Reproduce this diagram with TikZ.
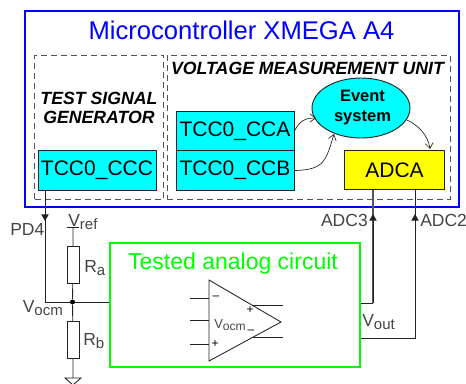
\documentclass[tikz,border=0pt]{standalone}
\usepackage{fontspec}
\setmainfont{Liberation Sans}
\usepackage{tikz}
\usetikzlibrary{arrows.meta,positioning,shapes.geometric}
\definecolor{mcublue}{HTML}{0000FF}
\definecolor{regcyan}{HTML}{00FFFF}
\definecolor{adcyellow}{HTML}{FFFF00}
\definecolor{testgreen}{HTML}{00FF00}
\definecolor{wiregray}{HTML}{222222}
\definecolor{dashgray}{HTML}{555555}
\definecolor{labelgray}{HTML}{444444}
\newlength{\pxu}
\setlength{\pxu}{0.75pt}
\newcommand{\pinsub}[1]{\raisebox{-3\pxu}{\fontsize{15\pxu}{15\pxu}\selectfont #1}}
\newcommand{\oasub}[1]{\raisebox{-2\pxu}{\fontsize{12\pxu}{12\pxu}\selectfont #1}}
\tikzset{
    regbox/.style={draw=wiregray, fill=regcyan, line width=0.7pt, minimum width=118\pxu, minimum height=39.5\pxu, inner sep=0pt, font=\fontsize{21\pxu}{23\pxu}\selectfont},
    unitbox/.style={draw=dashgray, line width=0.7pt, dash pattern=on 6\pxu off 4\pxu, minimum height=144\pxu, inner sep=0pt},
    unitlabel/.style={font=\fontsize{17.7\pxu}{19\pxu}\selectfont\bfseries\itshape, align=center, inner sep=0pt},
    wire/.style={draw=wiregray, line width=0.65pt},
    heavywire/.style={draw=dashgray, line width=1.1pt},
    rbox/.style={draw=wiregray, fill=white, line width=0.7pt, minimum width=12\pxu, minimum height=37\pxu, inner sep=0pt},
    pinlabel/.style={font=\fontsize{17.5\pxu}{19\pxu}\selectfont, color=labelgray, inner sep=0pt},
    signmark/.style={font=\fontsize{12\pxu}{12\pxu}\selectfont, inner sep=0pt},
    flow/.style={draw=wiregray, line width=0.5pt, -{Straight Barb[length=4pt,width=6pt]}},
    pintip/.style={-{Triangle[length=5pt,width=5.5pt]}}
}
\begin{document}
\begin{tikzpicture}[x=\pxu, y=-\pxu]
    \useasboundingbox (0,0) rectangle (466,383);

    % Microcontroller
    \node[draw=mcublue, line width=1.5pt, minimum width=434\pxu, minimum height=196\pxu, inner sep=0pt] (mcu) at (241.5,108.5) {};
    \node[anchor=base, font=\fontsize{25.6\pxu}{28\pxu}\selectfont, color=mcublue, inner sep=0pt] (mcutitle) at (241.5,39.5) {Microcontroller XMEGA A4};

    % Dashed units
    \node[unitbox, minimum width=129\pxu] (gen) at (99,127) {};
    \node[unitbox, minimum width=283\pxu] (vmu) at (308.5,127) {};
    \node[unitlabel] (genlabel) at (99,108) {TEST SIGNAL\\GENERATOR};
    \node[unitlabel] (vmulabel) at (307.5,68) {VOLTAGE MEASUREMENT UNIT};

    % Registers
    \node[regbox] (ccc) at (97,170.5) {TCC0\_CCC};
    \node[regbox] (cca) at (235,131) {TCC0\_CCA};
    \node[regbox] (ccb) at (235,170.5) {TCC0\_CCB};
    \node[draw=wiregray, fill=adcyellow, line width=0.7pt, minimum width=100\pxu, minimum height=39.5\pxu, inner sep=0pt, font=\fontsize{21\pxu}{23\pxu}\selectfont] (adca) at (394.5,170) {ADCA};
    \node[ellipse, draw=wiregray, fill=regcyan, line width=0.7pt, minimum width=98\pxu, minimum height=60\pxu, inner sep=0pt] (event) at (361,108) {};
    \node[align=center, inner sep=0pt, font=\fontsize{16.5\pxu}{20\pxu}\selectfont\bfseries] (eventlabel) at (362.5,108) {Event\\system};

    % Flows to and from the event system
    \coordinate (evta) at (316,118);
    \coordinate (evtb) at (334,134);
    \coordinate (evtc) at (407,120);
    \coordinate (adctop) at (430,149);
    \draw[flow] (cca.east) .. controls (300,120) and (306,118) .. (evta);
    \draw[flow] (ccb.east) .. controls (325,170) and (326,160) .. (evtb);
    \draw[flow] (evtc) .. controls (418,125) and (428,135) .. (adctop);

    % Tested circuit
    \node[draw=testgreen, line width=1.5pt, minimum width=250\pxu, minimum height=124\pxu, inner sep=0pt] (dut) at (235,305) {};
    \node[anchor=base, font=\fontsize{23\pxu}{25\pxu}\selectfont, color=testgreen, inner sep=0pt] (dutlabel) at (233,269) {Tested analog circuit};

    % Op amp
    \coordinate (oa1) at (209,280);
    \coordinate (oa2) at (281,322);
    \coordinate (oa3) at (209,361);
    \draw[wire] (oa1) -- (oa2) -- (oa3) -- cycle;
    \foreach \y in {298,320,344} {
        \draw[wire] (190,\y) -- (209,\y);
    }
    \foreach \y in {305,337} {
        \draw[wire] (252,\y) -- (283,\y);
    }
    \node[signmark] (oam) at (216,298) {–};
    \node[signmark] (oap) at (215,344) {+};
    \node[signmark] (oap2) at (250,310) {+};
    \node[signmark] (oam2) at (251,332) {–};
    \node[anchor=base west, font=\fontsize{13\pxu}{15\pxu}\selectfont, color=labelgray, inner sep=0pt] (oav) at (214,328) {V\oasub{ocm}};

    % Divider
    \node[rbox] (ra) at (73,265) {};
    \node[rbox] (rb) at (73,340) {};
    \node[circle, fill=black, minimum size=5\pxu, inner sep=0pt] (jct) at (72.5,302) {};
    \coordinate (vreft) at (73,227);
    \coordinate (gnd) at (73,378);
    \draw[wire] (vreft) -- (ra) -- (jct) -- (rb) -- (gnd);
    \draw[wire] (67,227) -- (79,227);
    \draw[wire] (65,378) -- (81,378) -- (73,385) -- cycle;
    \coordinate (pdstart) at (45,190);
    \coordinate (pdtip) at (45,221);
    \coordinate (pdbend) at (45,302);
    \draw[wire] (pdstart) -- (pdbend) -- (jct) -- (dut.west |- jct);
    \draw[wire, pintip] (pdstart) -- (pdtip);

    % ADC inputs
    \coordinate (adc3bend) at (373,303);
    \coordinate (adc2bend) at (415,338);
    \coordinate (adc3top) at (373,190);
    \coordinate (adc2top) at (415,190);
    \coordinate (adc3tip) at (373,214);
    \coordinate (adc2tip) at (415,214);
    \draw[heavywire] (adc3bend) -- (adc3top);
    \draw[wire] (dut.east |- adc3bend) -- (adc3bend);
    \draw[wire] (dut.east |- adc2bend) -- (adc2bend) -- (adc2top);
    \draw[wire, pintip] (adc3bend) -- (adc3tip);
    \draw[wire, pintip] (adc2bend) -- (adc2tip);

    % Pin labels
    \node[pinlabel, anchor=base west] (pd4) at (10,235) {PD4};
    \node[pinlabel, anchor=base west] (vref) at (68,226) {V\pinsub{ref}};
    \node[pinlabel, anchor=base west] (vocm) at (22.5,312) {V\pinsub{ocm}};
    \node[pinlabel, anchor=base west] (rat) at (84,272) {R\pinsub{a}};
    \node[pinlabel, anchor=base west] (rbt) at (83,345) {R\pinsub{b}};
    \node[pinlabel, anchor=base east] (adc3) at (368,226) {ADC3};
    \node[pinlabel, anchor=base west] (adc2) at (420,226) {ADC2};
    \node[pinlabel, anchor=base west] (vout) at (362,326) {V\pinsub{out}};
\end{tikzpicture}
\end{document}
